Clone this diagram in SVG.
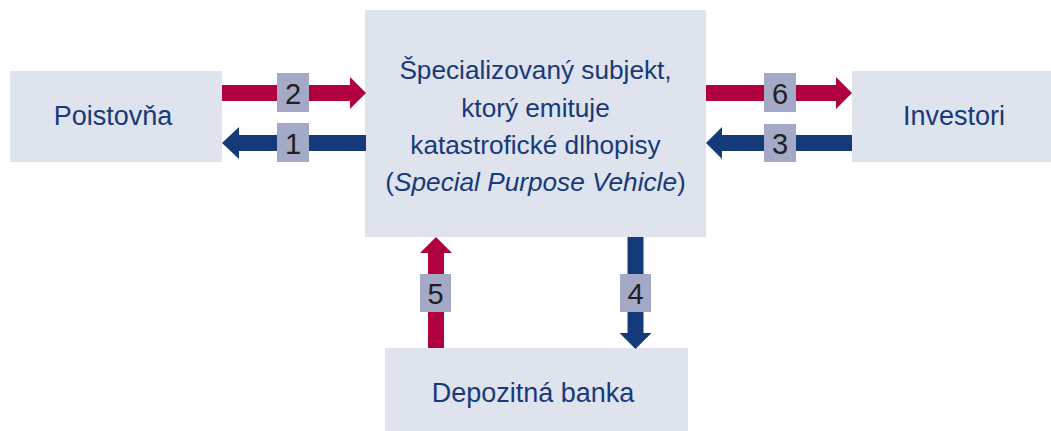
<svg xmlns="http://www.w3.org/2000/svg" width="1051" height="431" viewBox="0 0 1051 431">
<style>
.box{fill:#DEE3EE}
.t{font-family:"Liberation Sans",Arial,sans-serif;font-size:27px;fill:#183A78;text-anchor:middle}
.c{font-size:26.2px}
.red{fill:#B00040}
.blue{fill:#143A7A}
.lb{fill:#A4A9C7}
.n{font-family:"Liberation Sans",Arial,sans-serif;font-size:29px;fill:#231F20;text-anchor:middle}
</style>
<rect width="1051" height="431" fill="#FFFFFF"/>
<g id="poistovna">
<rect class="box" x="10" y="71" width="212" height="91"/>
<text class="t" x="113" y="125">Poistovňa</text>
</g>
<g id="spv">
<rect class="box" x="365" y="10" width="341" height="227"/>
<text class="t c" x="535.5" y="79">Špecializovaný subjekt,</text>
<text class="t c" x="535.5" y="116.5">ktorý emituje</text>
<text class="t c" x="535.5" y="154">katastrofické dlhopisy</text>
<text class="t c" x="535.5" y="191">(<tspan font-style="italic">Special Purpose Vehicle</tspan>)</text>
</g>
<g id="investori">
<rect class="box" x="852" y="71" width="199" height="91"/>
<text class="t" x="954" y="125">Investori</text>
</g>
<g id="banka">
<rect class="box" x="385" y="348" width="303" height="83"/>
<text class="t" x="533" y="402">Depozitná banka</text>
</g>
<g id="connectors">
<polygon class="red" points="222,85 350,85 350,77 366,93 350,109 350,101 222,101"/>
<polygon class="blue" points="366,135 239,135 239,127 222,143 239,159 239,151 366,151"/>
<polygon class="red" points="706,85 836,85 836,77 852,93 836,109 836,101 706,101"/>
<polygon class="blue" points="852,135 722,135 722,127 706,143 722,159 722,151 852,151"/>
<polygon class="red" points="428,348 428,253 420,253 436,237 452,253 444,253 444,348"/>
<polygon class="blue" points="627.5,237 627.5,333 619.5,333 635.5,349 651.5,333 643.5,333 643.5,237"/>
<rect class="lb" x="277" y="73" width="32" height="39"/>
<text class="n" x="293" y="103.5">2</text>
<rect class="lb" x="277" y="123" width="32" height="39"/>
<text class="n" x="293" y="154">1</text>
<rect class="lb" x="764" y="73" width="32" height="39"/>
<text class="n" x="780" y="103.5">6</text>
<rect class="lb" x="764" y="124" width="32" height="38"/>
<text class="n" x="780" y="154">3</text>
<rect class="lb" x="420" y="274" width="31" height="38"/>
<text class="n" x="435.5" y="304">5</text>
<rect class="lb" x="620" y="274" width="31" height="38"/>
<text class="n" x="635.5" y="304">4</text>
</g>
</svg>
